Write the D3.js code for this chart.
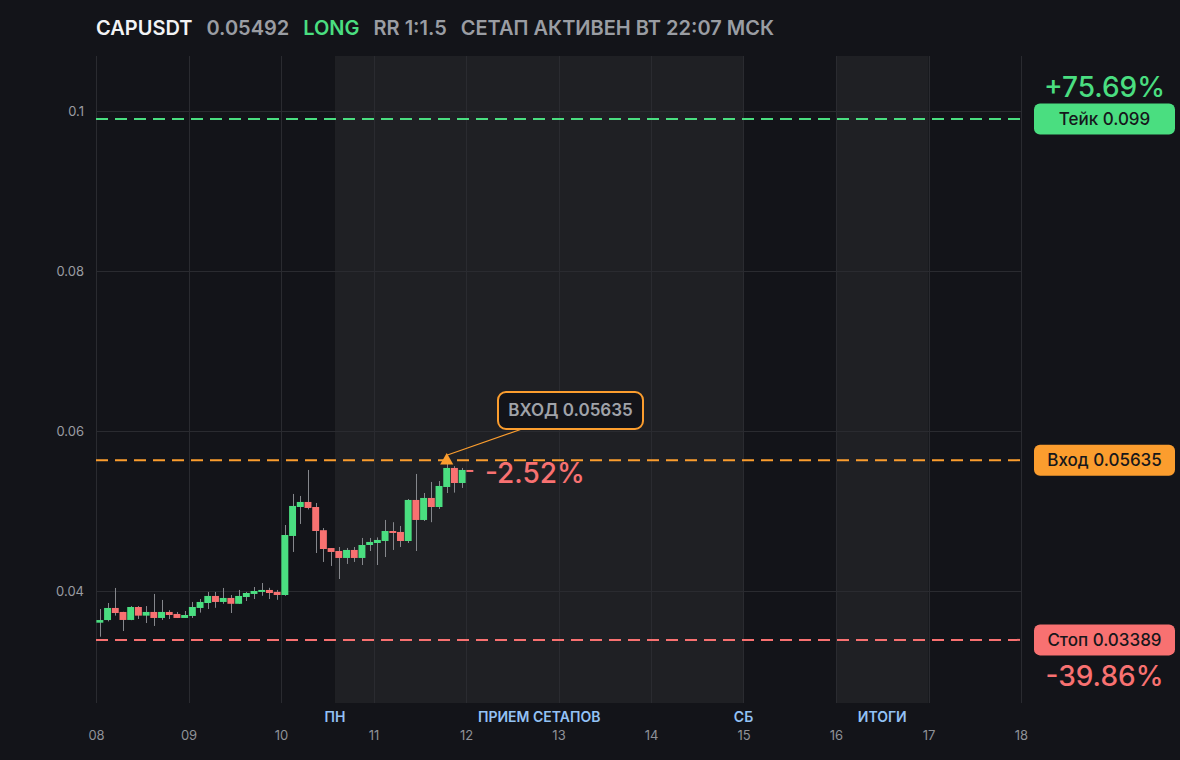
<!DOCTYPE html>
<html>
<head>
<meta charset="utf-8">
<script src="https://cdn.jsdelivr.net/npm/d3@7"></script>
<style>
  html, body { margin: 0; padding: 0; background: #131419; }
  svg { display: block; font-family: Inter, "Noto Sans", sans-serif; }
</style>
</head>
<body>
<svg id="chart" width="1180" height="760"></svg>
<script>
// 2h candles starting on the 8th, 00:00
var startDay = 8, stepHours = 2;
var candleOpen  = [0.03604,0.03637,0.03788,0.03738,0.03638,0.03800,0.03692,0.03738,0.03663,0.03738,0.03713,0.03663,
                   0.03688,0.03788,0.03850,0.03938,0.03863,0.03913,0.03840,0.03925,0.03963,0.03988,0.04013,0.03988,
                   0.03950,0.04688,0.05050,0.05113,0.05050,0.04760,0.04537,0.04500,0.04413,0.04513,0.04413,0.04575,
                   0.04600,0.04625,0.04750,0.04738,0.04625,0.05138,0.04888,0.05163,0.05050,0.05300,0.05538,0.05350,0.05513];
var candleHigh  = [0.03775,0.03850,0.04038,0.03740,0.03812,0.03812,0.03812,0.03963,0.03888,0.03760,0.03738,0.03750,
                   0.03863,0.03900,0.03988,0.03988,0.04038,0.03950,0.04013,0.03988,0.04050,0.04100,0.04040,0.04013,
                   0.04825,0.05213,0.05188,0.05513,0.05100,0.04787,0.04537,0.04550,0.04538,0.04550,0.04663,0.04663,
                   0.04670,0.04888,0.04860,0.04813,0.05150,0.05463,0.05225,0.05363,0.05375,0.05600,0.05560,0.05538,0.05513];
var candleLow   = [0.03429,0.03620,0.03692,0.03500,0.03635,0.03650,0.03600,0.03563,0.03638,0.03650,0.03663,0.03663,
                   0.03663,0.03730,0.03775,0.03790,0.03840,0.03725,0.03840,0.03875,0.03900,0.03940,0.03900,0.03890,
                   0.03940,0.04488,0.04838,0.05020,0.04475,0.04363,0.04313,0.04150,0.04338,0.04363,0.04325,0.04500,
                   0.04325,0.04425,0.04513,0.04550,0.04600,0.04500,0.04875,0.04860,0.05025,0.05225,0.05230,0.05288,0.05492];
var candleClose = [0.03637,0.03788,0.03725,0.03638,0.03800,0.03692,0.03738,0.03663,0.03738,0.03700,0.03663,0.03700,
                   0.03800,0.03863,0.03938,0.03863,0.03913,0.03840,0.03938,0.03975,0.04000,0.04013,0.03975,0.03950,
                   0.04700,0.05063,0.05113,0.05038,0.04750,0.04525,0.04488,0.04413,0.04513,0.04413,0.04575,0.04613,
                   0.04638,0.04750,0.04725,0.04625,0.05138,0.04888,0.05163,0.05050,0.05313,0.05538,0.05350,0.05513,0.05492];

var dayTicks = d3.range(8, 19);
var priceTicks = [0.04, 0.06, 0.08, 0.1];
var sessionBands = [[10 + 14 / 24, 15], [16, 17]];
var sessionLabels = ["ПН", "ПРИЕМ СЕТАПОВ", "СБ", "ИТОГИ"];
var sessionAt = [10 + 14 / 24, 12 + 19 / 24, 15, 16.5];

var takePrice = 0.099, entryPrice = 0.05635, stopPrice = 0.03389;
var entryCandle = 45;
var levelNames = ["Тейк", "Вход", "Стоп"];
var levelPrices = [takePrice, entryPrice, stopPrice];
var levelColors = ["#4ade80", "#fb9d2e", "#f87171"];
var levelPct = ["+75.69%", null, "-39.86%"];
var headerParts = [["CAPUSDT", "#f2f3f5"], ["0.05492", "#9a9da3"], ["LONG", "#4ade80"],
                   ["RR 1:1.5", "#9a9da3"], ["СЕТАП АКТИВЕН ВТ 22:07 МСК", "#9a9da3"]];
var lastPct = "-2.52%";

var green = "#4ade80", red = "#f87171", orange = "#fb9d2e";

var svg = d3.select("#chart");
var plotL = 96, plotR = 1021, plotT = 56, plotB = 703;

var x = d3.scaleLinear().domain([8, 18]).range([plotL, plotR]);
var y = d3.scaleLinear().domain([0.026, 0.106875]).range([plotB, plotT]);

// session shading
svg.append("g").selectAll("rect")
    .data(sessionBands)
    .enter().append("rect")
    .attr("x", function (d) { return x(d[0]); })
    .attr("width", function (d) { return x(d[1]) - x(d[0]); })
    .attr("y", plotT)
    .attr("height", plotB - plotT)
    .attr("fill", "#1f2024");

// grid
var grid = svg.append("g").attr("stroke", "#2a2b30").attr("stroke-width", 1);
grid.selectAll("line.v")
    .data(dayTicks)
    .enter().append("line")
    .attr("class", "v")
    .attr("x1", function (d) { return Math.round(x(d)) + 0.5; })
    .attr("x2", function (d) { return Math.round(x(d)) + 0.5; })
    .attr("y1", plotT).attr("y2", plotB);
grid.selectAll("line.h")
    .data(priceTicks)
    .enter().append("line")
    .attr("class", "h")
    .attr("x1", plotL).attr("x2", plotR)
    .attr("y1", function (d) { return Math.round(y(d)) + 0.5; })
    .attr("y2", function (d) { return Math.round(y(d)) + 0.5; });

// axes
var yAxis = svg.append("g")
    .attr("transform", "translate(" + (plotL - 12) + ",0)")
    .call(d3.axisLeft(y).tickValues(priceTicks).tickFormat(function (d) { return String(d); })
        .tickSize(0).tickPadding(0));
yAxis.select(".domain").remove();
yAxis.selectAll("text").attr("fill", "#9a9ca2").style("font-size", "13px").style("font-family", "Inter");

var xAxis = svg.append("g")
    .attr("transform", "translate(0," + (plotB + 28) + ")")
    .call(d3.axisBottom(x).tickValues(dayTicks).tickFormat(d3.format("02d")).tickSize(0).tickPadding(0));
xAxis.select(".domain").remove();
xAxis.selectAll("text").attr("fill", "#8f9298").style("font-size", "13px").style("font-family", "Inter");

svg.append("g").selectAll("text")
    .data(sessionLabels)
    .enter().append("text")
    .attr("x", function (d, i) { return x(sessionAt[i]); })
    .attr("y", plotB + 19)
    .attr("text-anchor", "middle")
    .attr("fill", "#93c2f5")
    .style("font-size", "14px")
    .style("font-weight", 600)
    .text(function (d) { return d; });

// level lines
svg.append("g").selectAll("line")
    .data(levelPrices)
    .enter().append("line")
    .attr("x1", plotL).attr("x2", plotR)
    .attr("y1", function (d) { return y(d); })
    .attr("y2", function (d) { return y(d); })
    .attr("stroke", function (d, i) { return levelColors[i]; })
    .attr("stroke-width", 2)
    .attr("stroke-dasharray", "12,7");

// candles
var candles = candleOpen.map(function (o, i) {
    return {t: startDay + (i * stepHours + stepHours / 2) / 24,
            o: o, h: candleHigh[i], l: candleLow[i], c: candleClose[i]};
});
var bw = (x(startDay + stepHours / 24) - x(startDay)) * 0.9;

var cg = svg.append("g").selectAll("g")
    .data(candles)
    .enter().append("g");
cg.append("line")
    .attr("x1", function (d) { return Math.round(x(d.t)) + 0.5; })
    .attr("x2", function (d) { return Math.round(x(d.t)) + 0.5; })
    .attr("y1", function (d) { return y(d.h); })
    .attr("y2", function (d) { return y(d.l); })
    .attr("stroke", "#85878c")
    .attr("stroke-width", 1);
cg.append("rect")
    .attr("x", function (d) { return x(d.t) - bw / 2; })
    .attr("width", bw)
    .attr("y", function (d) { return y(Math.max(d.o, d.c)); })
    .attr("height", function (d) { return Math.max(2, Math.abs(y(d.o) - y(d.c))); })
    .attr("fill", function (d) { return d.c >= d.o ? green : red; });

// entry marker + callout
var ex = x(candles[entryCandle].t), ey = y(entryPrice);
var boxX = 498, boxY = 392, boxW = 145, boxH = 37;
svg.append("line")
    .attr("x1", ex).attr("y1", ey - 5)
    .attr("x2", boxX + 24).attr("y2", boxY + boxH)
    .attr("stroke", orange).attr("stroke-width", 1.2);
svg.append("rect")
    .attr("x", boxX).attr("y", boxY).attr("width", boxW).attr("height", boxH)
    .attr("rx", 8)
    .attr("fill", "#131419")
    .attr("stroke", orange).attr("stroke-width", 2);
svg.append("text")
    .attr("x", boxX + boxW / 2).attr("y", boxY + boxH / 2)
    .attr("dy", "0.35em")
    .attr("text-anchor", "middle")
    .attr("fill", "#a0a3a9")
    .style("font-size", "17px").style("font-weight", 600)
    .text("ВХОД " + entryPrice);
svg.append("path")
    .attr("d", d3.symbol().type(d3.symbolTriangle).size(75))
    .attr("transform", "translate(" + ex + "," + (ey + 0.5) + ")")
    .attr("fill", orange);

svg.append("text")
    .attr("x", 485).attr("y", y(candleClose[candleClose.length - 1]) + 11)
    .attr("fill", red)
    .style("font-size", "28px").style("font-weight", 500)
    .text(lastPct);

// right badges
var badge = svg.append("g").selectAll("g")
    .data(levelPrices)
    .enter().append("g")
    .attr("transform", function (d) { return "translate(1034," + y(d) + ")"; });
badge.append("rect")
    .attr("x", 0).attr("y", -15.5)
    .attr("width", 141).attr("height", 31)
    .attr("rx", 6)
    .attr("fill", function (d, i) { return levelColors[i]; });
badge.append("text")
    .attr("x", 70.5).attr("dy", "0.35em")
    .attr("text-anchor", "middle")
    .attr("fill", "#16171b")
    .style("font-size", "17px").style("font-weight", 500)
    .text(function (d, i) { return levelNames[i] + " " + d; });
badge.filter(function (d, i) { return levelPct[i]; })
    .append("text")
    .attr("x", 70.5)
    .attr("y", function (d) { return levelPrices.indexOf(d) === 0 ? -22 : 46; })
    .attr("text-anchor", "middle")
    .attr("fill", function (d) { return levelColors[levelPrices.indexOf(d)]; })
    .style("font-size", "28px").style("font-weight", 500)
    .text(function (d) { return levelPct[levelPrices.indexOf(d)]; });

// header
var hx = 96;
headerParts.forEach(function (p) {
    var t = svg.append("text")
        .attr("x", hx).attr("y", 35)
        .attr("fill", p[1])
        .style("font-size", "20px").style("font-weight", 600)
        .text(p[0]);
    hx += t.node().getComputedTextLength() + 14;
});
</script>
</body>
</html>
